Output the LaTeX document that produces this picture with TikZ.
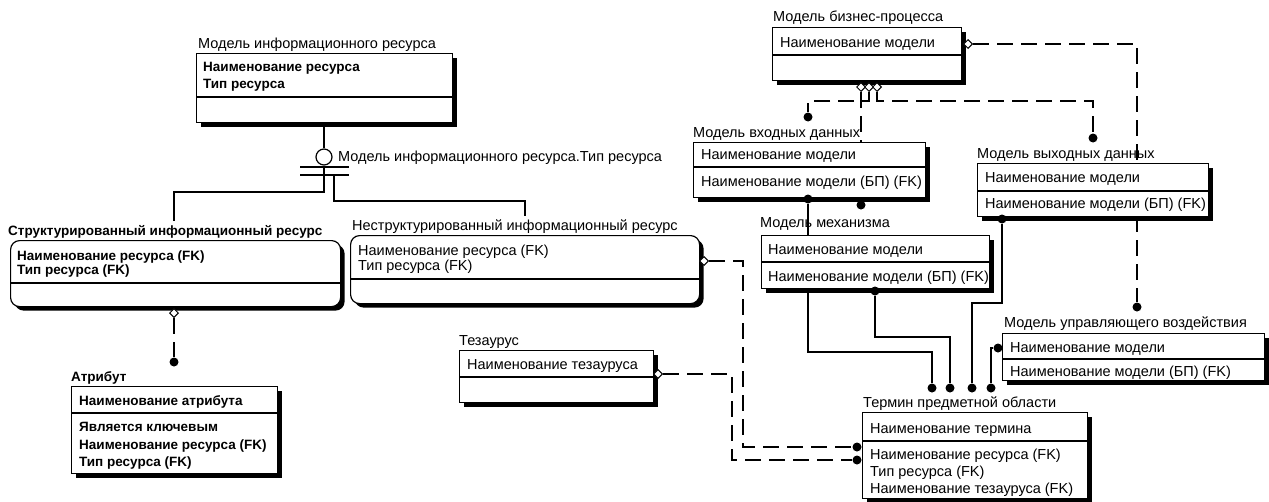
\documentclass[tikz,border=0pt]{standalone}
\usepackage{fontspec}
\setmainfont{Liberation Sans}
\usetikzlibrary{shapes.geometric,shadows,backgrounds}

\begin{document}
\begin{tikzpicture}[x=1pt,y=-1pt,font=\fontsize{14.5}{17}\selectfont,
    ent/.style={draw,fill=white,line width=1.2pt,anchor=north west,inner sep=0pt,
      drop shadow={shadow xshift=4pt,shadow yshift=-4pt,fill=black,opacity=1}},
    entr/.style={ent,rounded corners=9pt},
    ttl/.style={anchor=base west,inner sep=0pt},
    fld/.style={anchor=base west,inner sep=0pt},
    bfld/.style={fld,font=\fontsize{13.5}{17}\selectfont\bfseries},
    dot/.style={circle,fill=black,inner sep=0pt,minimum size=9pt},
    odiam/.style={diamond,draw,fill=white,inner sep=0pt,minimum size=9pt,line width=1pt},
    idf/.style={line width=1.3pt},
    nidf/.style={line width=1.3pt,dash pattern=on 16pt off 8pt}]
  \path[use as bounding box] (0,0) rectangle (1269,501);

  % entities
  \node[ent,minimum width=256pt,minimum height=69pt] (mir) at (196,53) {};
  \draw[idf] (mir.west |- 0,97) -- (mir.east |- 0,97);
  \node[ttl] (mirt) at (198,48) {Модель информационного ресурса};
  \node[bfld] (mir1) at (203,71) {Наименование ресурса};
  \node[bfld] (mir2) at (203,88) {Тип ресурса};

  \node[entr,minimum width=330pt,minimum height=66pt] (sir) at (10,240) {};
  \draw[idf] (sir.west |- 0,283) -- (sir.east |- 0,283);
  \node[bfld] (sirt) at (8,235) {Структурированный информационный ресурс};
  \node[bfld] (sir1) at (17,260) {Наименование ресурса (FK)};
  \node[bfld] (sir2) at (17,274) {Тип ресурса (FK)};

  \node[ent,minimum width=206pt,minimum height=87pt] (attr) at (71,386) {};
  \draw[idf] (attr.west |- 0,413) -- (attr.east |- 0,413);
  \node[bfld] (attrt) at (71,381) {Атрибут};
  \node[bfld] (attr1) at (79,405) {Наименование атрибута};
  \node[bfld] (attr2) at (79,431) {Является ключевым};
  \node[bfld] (attr3) at (79,449) {Наименование ресурса (FK)};
  \node[bfld] (attr4) at (79,466) {Тип ресурса (FK)};

  \node[entr,minimum width=349pt,minimum height=68pt] (nir) at (350,235) {};
  \draw[idf] (nir.west |- 0,279) -- (nir.east |- 0,279);
  \node[ttl] (nirt) at (352,230) {Неструктурированный информационный ресурс};
  \node[fld] (nir1) at (358,255) {Наименование ресурса (FK)};
  \node[fld] (nir2) at (358,270) {Тип ресурса (FK)};

  \node[ent,minimum width=194pt,minimum height=52pt] (tez) at (459,350) {};
  \draw[idf] (tez.west |- 0,377) -- (tez.east |- 0,377);
  \node[ttl] (tezt) at (459,345) {Тезаурус};
  \node[fld] (tez1) at (467,369) {Наименование тезауруса};

  \node[ent,minimum width=189pt,minimum height=53pt] (bp) at (772,27) {};
  \draw[idf] (bp.west |- 0,55) -- (bp.east |- 0,55);
  \node[ttl] (bpt) at (773,21) {Модель бизнес-процесса};
  \node[fld] (bp1) at (780,47) {Наименование модели};

  \node[ent,minimum width=232pt,minimum height=55pt] (mvd) at (693,142) {};
  \draw[idf] (mvd.west |- 0,167) -- (mvd.east |- 0,167);
  \node[ttl] (mvdt) at (693,137) {Модель входных данных};
  \node[fld] (mvd1) at (701,159) {Наименование модели};
  \node[fld] (mvd2) at (701,186) {Наименование модели (БП) (FK)};

  \node[ent,minimum width=231pt,minimum height=53pt] (mvyd) at (977,163) {};
  \draw[idf] (mvyd.west |- 0,191) -- (mvyd.east |- 0,191);
  \node[ttl] (mvydt) at (977,158) {Модель выходных данных};
  \node[fld] (mvyd1) at (985,182) {Наименование модели};
  \node[fld] (mvyd2) at (985,208) {Наименование модели (БП) (FK)};

  \node[ent,minimum width=228pt,minimum height=53pt] (mm) at (761,235) {};
  \draw[idf] (mm.west |- 0,262) -- (mm.east |- 0,262);
  \node[ttl] (mmt) at (760,227) {Модель механизма};
  \node[fld] (mm1) at (768,254) {Наименование модели};
  \node[fld] (mm2) at (768,281) {Наименование модели (БП) (FK)};

  \node[ent,minimum width=262pt,minimum height=47pt] (muv) at (1002,333) {};
  \draw[idf] (muv.west |- 0,359) -- (muv.east |- 0,359);
  \node[ttl] (muvt) at (1004,327) {Модель управляющего воздействия};
  \node[fld] (muv1) at (1010,352) {Наименование модели};
  \node[fld] (muv2) at (1010,376) {Наименование модели (БП) (FK)};

  \node[ent,minimum width=225pt,minimum height=86pt] (term) at (862,412) {};
  \draw[idf] (term.west |- 0,441) -- (term.east |- 0,441);
  \node[ttl] (termt) at (863,407) {Термин предметной области};
  \node[fld] (term1) at (870,433) {Наименование термина};
  \node[fld] (term2) at (870,459) {Наименование ресурса (FK)};
  \node[fld] (term3) at (870,476) {Тип ресурса (FK)};
  \node[fld] (term4) at (870,493) {Наименование тезауруса (FK)};

  % category
  \node[circle,draw,fill=white,line width=1.2pt,minimum size=16pt,inner sep=0pt] (cat) at (324,157) {};
  \node[ttl] (catt) at (338,161) {Модель информационного ресурса.Тип ресурса};
  \draw[idf] (300,167) -- (349,167) (300,175) -- (349,175);
  \coordinate (cb1) at (324,175);
  \coordinate (cb2) at (334,175);
  \coordinate (sirin) at (174,221);
  \coordinate (nirin) at (525,216);

  % relationship ends
  \node[odiam] (p1) at (174,313) {};
  \node[dot] (c1) at (174,362) {};
  \node[odiam] (p2) at (704,261) {};
  \node[dot] (c2) at (857,447) {};
  \node[odiam] (p3) at (658,374) {};
  \node[dot] (c3) at (857,460) {};
  \node[odiam] (q1) at (861,87) {};
  \node[odiam] (q2) at (869,87) {};
  \node[odiam] (q3) at (877,87) {};
  \node[odiam] (q4) at (968,44) {};
  \node[dot] (c4) at (808,117) {};
  \node[dot] (c5) at (861,205) {};
  \node[dot] (c6) at (1093,138) {};
  \node[dot] (c7) at (1137,307) {};
  \node[dot] (c8) at (808,199) {};
  \node[dot] (c9) at (875,291) {};
  \node[dot] (c10) at (1002,219) {};
  \node[dot] (c11) at (998,348) {};
  \node[dot] (t1) at (932,388) {};
  \node[dot] (t2) at (950,388) {};
  \node[dot] (t3) at (972,388) {};
  \node[dot] (t4) at (991,388) {};

  \begin{scope}[on background layer]
    \fill[white] (0,0) rectangle (1269,501);
    \draw[idf] (mir.south -| cat) -- (cat);
    \draw[idf] (cat) -- (cb1);
    \draw[idf] (cb1) -- ++(0,17) -| (sirin);
    \draw[idf] (cb2) -- ++(0,26) -| (nirin);
    \draw[nidf] (p1) -- (c1);
    \draw[nidf] (p2) -- ++(39,0) |- (c2);
    \draw[nidf] (p3) -- ++(74,0) |- (c3);
    \draw[nidf] (q1) -- (c5);
    \draw[nidf] (q2) -- ++(0,14) -| (c4);
    \draw[nidf] (q3) -- ++(0,14) -| (c6);
    \draw[nidf] (q4) -| (c7);
    \draw[idf] (c8) -- ++(0,153) -| (t1);
    \draw[idf] (c9) -- ++(0,46) -| (t2);
    \draw[idf] (c10) -- ++(0,84) -| (t3);
    \draw[idf] (c11) -| (t4);
  \end{scope}
\end{tikzpicture}
\end{document}
